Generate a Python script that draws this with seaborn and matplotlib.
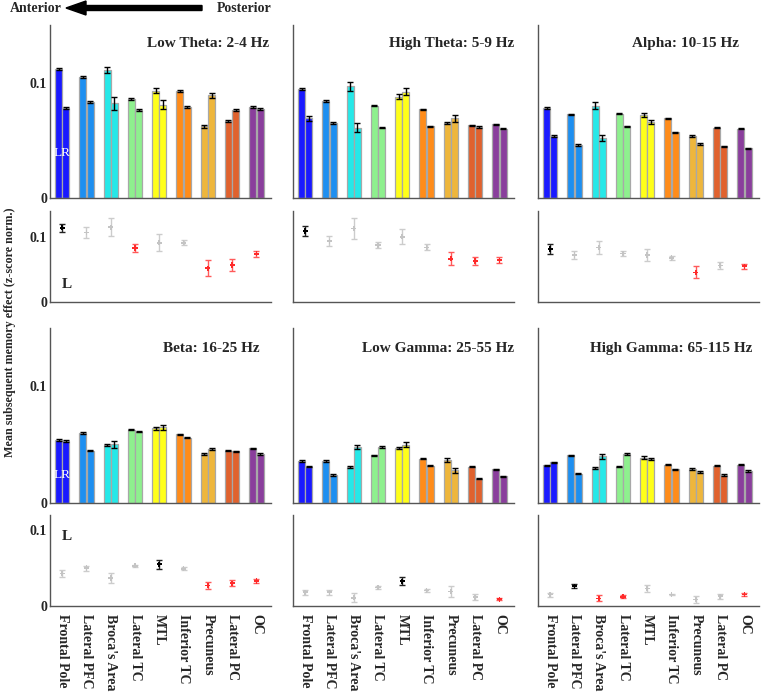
import numpy as np
import pandas as pd
import matplotlib.pyplot as plt
import seaborn as sns
from matplotlib.patches import FancyArrow

# --------------------
# Data
# --------------------
regions = ["Frontal Pole", "Lateral PFC", "Broca's Area", "Lateral TC", "MTL",
           "Inferior TC", "Precuneus", "Lateral PC", "OC"]
region_colors = ["#1a1aff", "#1e8ff0", "#26e8e8", "#8ef08e", "#ffff1a",
                 "#ff8c1a", "#eeb63c", "#e0622e", "#8a3e9c"]
bands = ["Low Theta: 2-4 Hz", "High Theta: 5-9 Hz", "Alpha: 10-15 Hz",
         "Beta: 16-25 Hz", "Low Gamma: 25-55 Hz", "High Gamma: 65-115 Hz"]

# bar heights (left / right hemisphere) and their errors, one list per band
left_vals = [
    [0.112, 0.105, 0.111, 0.086, 0.093, 0.093, 0.062, 0.067, 0.079],
    [0.0945, 0.084, 0.097, 0.080, 0.088, 0.077, 0.065, 0.063, 0.064],
    [0.078, 0.0725, 0.080, 0.073, 0.072, 0.069, 0.054, 0.061, 0.060],
    [0.054, 0.060, 0.050, 0.063, 0.064, 0.059, 0.042, 0.045, 0.047],
    [0.036, 0.036, 0.031, 0.041, 0.047, 0.038, 0.037, 0.031, 0.029],
    [0.0325, 0.041, 0.030, 0.031, 0.039, 0.033, 0.029, 0.032, 0.033],
]
right_vals = [
    [0.078, 0.083, 0.082, 0.076, 0.081, 0.079, 0.089, 0.076, 0.077],
    [0.069, 0.065, 0.061, 0.061, 0.092, 0.062, 0.069, 0.0615, 0.060],
    [0.054, 0.046, 0.052, 0.062, 0.066, 0.057, 0.047, 0.045, 0.043],
    [0.053, 0.045, 0.0505, 0.061, 0.065, 0.056, 0.0465, 0.0445, 0.042],
    [0.031, 0.024, 0.048, 0.048, 0.050, 0.032, 0.028, 0.021, 0.023],
    [0.035, 0.025, 0.040, 0.042, 0.0375, 0.029, 0.0265, 0.024, 0.0275],
]
left_err = [
    [0.001, 0.001, 0.003, 0.001, 0.002, 0.001, 0.001, 0.001, 0.001],
    [0.001, 0.001, 0.004, 0.0005, 0.002, 0.0005, 0.001, 0.0005, 0.0005],
    [0.001, 0.0005, 0.003, 0.0005, 0.002, 0.0005, 0.001, 0.0005, 0.0005],
    [0.001, 0.0005, 0.001, 0.0005, 0.001, 0.0005, 0.0005, 0.0005, 0.0005],
    [0.0005, 0.0005, 0.001, 0.0005, 0.001, 0.0005, 0.002, 0.0005, 0.0005],
    [0.0005, 0.0005, 0.0005, 0.0005, 0.001, 0.0005, 0.001, 0.0005, 0.0005],
]
right_err = [
    [0.001, 0.001, 0.006, 0.001, 0.004, 0.001, 0.002, 0.001, 0.001],
    [0.002, 0.001, 0.004, 0.0005, 0.003, 0.0005, 0.003, 0.0005, 0.0005],
    [0.001, 0.0005, 0.003, 0.0005, 0.002, 0.0005, 0.001, 0.0005, 0.0005],
    [0.001, 0.0005, 0.003, 0.0005, 0.002, 0.0005, 0.001, 0.0005, 0.0005],
    [0.0005, 0.0005, 0.002, 0.0005, 0.002, 0.0005, 0.002, 0.0005, 0.0005],
    [0.0005, 0.0005, 0.002, 0.0005, 0.001, 0.0005, 0.001, 0.0005, 0.0005],
]

# lower panels: point estimate, error and significance class (k / g / r)
dot_vals = [
    [0.114, 0.107, 0.115, 0.083, 0.091, 0.091, 0.052, 0.057, 0.074],
    [0.0935, 0.080, 0.097, 0.075, 0.086, 0.072, 0.057, 0.054, 0.055],
    [0.070, 0.062, 0.072, 0.064, 0.062, 0.058, 0.039, 0.048, 0.047],
    [0.043, 0.050, 0.037, 0.053, 0.055, 0.049, 0.027, 0.030, 0.033],
    [0.018, 0.018, 0.011, 0.0245, 0.0325, 0.0205, 0.019, 0.0116, 0.009],
    [0.015, 0.026, 0.010, 0.012, 0.023, 0.015, 0.0085, 0.013, 0.015],
]
dot_err = [
    [0.006, 0.008, 0.014, 0.006, 0.013, 0.004, 0.012, 0.009, 0.005],
    [0.007, 0.0065, 0.014, 0.004, 0.010, 0.004, 0.0087, 0.0054, 0.004],
    [0.0065, 0.0052, 0.0087, 0.003, 0.008, 0.003, 0.008, 0.005, 0.003],
    [0.005, 0.0033, 0.007, 0.001, 0.006, 0.002, 0.005, 0.004, 0.0027],
    [0.0036, 0.0033, 0.0058, 0.002, 0.0053, 0.002, 0.007, 0.004, 0.001],
    [0.0027, 0.0027, 0.004, 0.002, 0.0047, 0.001, 0.0047, 0.0033, 0.002],
]
dot_sig = [
    ["k", "g", "g", "r", "g", "g", "r", "r", "r"],
    ["k", "g", "g", "g", "g", "g", "r", "r", "r"],
    ["k", "g", "g", "g", "g", "g", "r", "g", "r"],
    ["g", "g", "g", "g", "k", "g", "r", "r", "r"],
    ["g", "g", "g", "g", "k", "g", "g", "g", "r"],
    ["g", "k", "r", "r", "g", "g", "g", "g", "r"],
]
dot_ylim_top = [0.14, 0.12, 0.12, 0.12, 0.12, 0.12]

# --------------------
# Style
# --------------------
sns.set_style("white")
plt.rcParams["font.family"] = ["Liberation Serif", "DejaVu Serif"]
plt.rcParams["font.weight"] = "bold"

W, H = 762, 693
fig = plt.figure(figsize=(W / 100, H / 100), dpi=100)

col_left = [50, 293, 538]
col_w = 221
rows = [(25, 198, 211, 302), (328, 503, 515, 606)]
title_x = [0.99, 1.0, 0.91, 0.95, 1.0, 0.97]
title_y = [0.895, 0.895, 0.895, 0.885, 0.885, 0.885]

dot_colors = {"k": "#000000", "g": "#c4c4c4", "r": "#ff2a2a"}
err_colors = {"k": "#222222", "g": "#cccccc", "r": "#ff5a5a"}
spine_col = "#555555"


def fax(left, top, bottom):
    return fig.add_axes([left / W, 1 - bottom / H, col_w / W, (bottom - top) / H])


def style_axes(ax, first_col):
    for s in ["top", "right"]:
        ax.spines[s].set_visible(False)
    for s in ["left", "bottom"]:
        ax.spines[s].set_color(spine_col)
        ax.spines[s].set_linewidth(1.0)
    ax.set_xlim(-0.5, 8.6)
    ax.set_yticks([0, 0.1])
    ax.tick_params(axis="y", direction="in", length=3, color=spine_col,
                   labelsize=10, pad=2)
    ax.tick_params(axis="x", length=0)
    if first_col:
        ax.set_yticklabels(["0", "0.1"], fontweight="bold")
    else:
        ax.set_yticklabels([])
    ax.set_xlabel("")
    ax.set_ylabel("")


for b, band in enumerate(bands):
    r, c = divmod(b, 3)
    top_b, bot_b, top_d, bot_d = rows[r]

    # ---- bar panel
    ax = fax(col_left[c], top_b, bot_b)
    df = pd.DataFrame({
        "region": regions * 2,
        "hemi": ["L"] * 9 + ["R"] * 9,
        "val": left_vals[b] + right_vals[b],
    })
    sns.barplot(data=df, x="region", y="val", hue="hemi", order=regions,
                hue_order=["L", "R"], width=0.6, gap=0.02, errorbar=None,
                legend=False, ax=ax, edgecolor="#a8a8a8", linewidth=0.9)
    for p in ax.patches:
        xc = p.get_x() + p.get_width() / 2
        i = int(round(xc))
        right = xc > i
        p.set_facecolor(region_colors[i])
        val = right_vals[b][i] if right else left_vals[b][i]
        err = right_err[b][i] if right else left_err[b][i]
        ax.errorbar(xc, val, yerr=err, fmt="none", ecolor="black",
                    elinewidth=1, capsize=2.2, capthick=1, zorder=5)
    ax.set_ylim(0, 0.15)
    style_axes(ax, c == 0)
    ax.set_xticks([])
    ax.text(title_x[b], title_y[b], band, transform=ax.transAxes,
            ha="right", va="center", fontsize=11, fontweight="bold")
    if c == 0:
        ax.text(0, 0.26 if r == 0 else 0.16, "LR", color="white",
                transform=ax.get_xaxis_transform(), ha="center", va="center",
                fontsize=9.5, fontweight="normal", zorder=6)

    # ---- dot panel
    ax2 = fax(col_left[c], top_d, bot_d)
    xs = np.arange(len(regions))
    sns.scatterplot(x=xs, y=dot_vals[b], hue=dot_sig[b], palette=dot_colors,
                    marker="P", s=14, linewidth=0, legend=False, ax=ax2, zorder=4)
    for i in xs:
        ax2.errorbar(i, dot_vals[b][i], yerr=dot_err[b][i], fmt="none",
                     ecolor=err_colors[dot_sig[b][i]], elinewidth=1,
                     capsize=2.2, capthick=1, zorder=3)
    ax2.set_ylim(0, dot_ylim_top[b])
    style_axes(ax2, c == 0)
    if r == 1:
        ax2.set_xticks(xs)
        ax2.set_xticklabels(regions, rotation=270, ha="center", va="top",
                            fontsize=10, fontweight="bold")
        ax2.tick_params(axis="x", pad=6)
    else:
        ax2.set_xticks([])
    if c == 0:
        ax2.text(0.077, 0.19 if r == 0 else 0.76, "L", transform=ax2.transAxes,
                 ha="center", va="center", fontsize=11, fontweight="bold")

# --------------------
# Header arrow and y label
# --------------------
fig.text(10 / W, 1 - 8 / H, "Anterior", ha="left", va="center",
         fontsize=10, fontweight="bold")
fig.text(272 / W, 1 - 8 / H, "Posterior", ha="right", va="center",
         fontsize=10, fontweight="bold")
fig.add_artist(FancyArrow(202 / W, 1 - 8 / H, -136 / W, 0, width=5 / H,
                          head_width=14 / H, head_length=20 / W,
                          length_includes_head=True, color="black",
                          transform=fig.transFigure))
fig.text(10 / W, 1 - 332 / H, "Mean subsequent memory effect (z-score norm.)",
         rotation=90, ha="center", va="center", fontsize=8.7, fontweight="bold")

fig.savefig("out.png", dpi=100)
